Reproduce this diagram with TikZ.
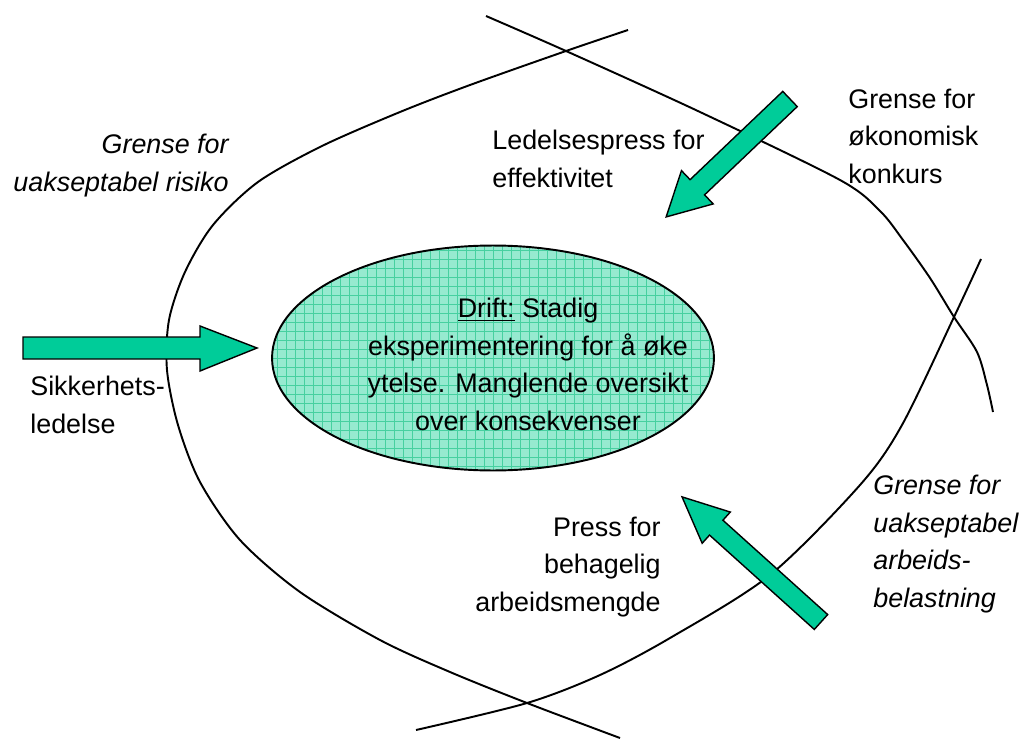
\documentclass[tikz,border=0pt]{standalone}
\usepackage{fontspec}
\setmainfont{Liberation Sans}
\usetikzlibrary{shapes.geometric}

\definecolor{arrowgreen}{RGB}{0,204,153}
\definecolor{driftfill}{RGB}{150,234,208}
\definecolor{driftgrid}{RGB}{70,208,160}

\tikzset{
  boundary/.style={line width=1.1pt},
  blockarrow/.style={fill=arrowgreen, draw=black, line width=0.8pt, line join=miter},
  lbl/.style={inner sep=0pt, font=\fontsize{15.3}{21.3}\selectfont},
  lblit/.style={lbl, font=\fontsize{15.3}{21.3}\selectfont\itshape}
}

\begin{document}
\begin{tikzpicture}[x=0.02cm, y=-0.02cm]
    \useasboundingbox (0,0) rectangle (1020,740);

    % Grense for uakseptabel risiko
    \draw[boundary] plot[smooth] coordinates {(628,30) (566,51) (470,85) (400,112) (322,146) (258,182) (213,225) (185,272) (169,320) (167,370) (178,425) (200,482) (240,540) (300,592) (380,640) (450,672) (527,703) (620,738)};

    % Grense for økonomisk konkurs
    \draw[boundary] plot[smooth] coordinates {(486,16) (566,51) (700,112) (840,180) (880,211) (903,240) (930,278) (954,317) (977,352) (987,385) (993,412)};

    % Grense for uakseptabel arbeidsbelastning
    \draw[boundary] plot[smooth] coordinates {(416,730) (527,703) (600,675) (670,638) (770,575) (860,485) (902,425) (954,317) (981,259)};

    % Drift
    \node[ellipse, draw, line width=1.1pt, fill=driftfill, minimum width=8.84cm, minimum height=4.5cm,
          path picture={\draw[driftgrid, line width=0.5pt] (path picture bounding box.south west) grid[step=0.18cm] (path picture bounding box.north east);}]
          (drift) at (493,358) {};
    \node[lbl, anchor=base, align=center] (drifttxt) at (528,430)
          {\underline{Drift:} Stadig\\eksperimentering for å øke\\ytelse. Manglende oversikt\\over konsekvenser};

    % Arrows
    \filldraw[blockarrow] (23,337) -- (200,337) -- (200,326) -- (257,348) -- (200,371) -- (200,359) -- (23,359) -- cycle;
    \begin{scope}[shift={(790,99)}, rotate=223.6]
        \filldraw[blockarrow] (0,-10.5) -- (128,-10.5) -- (128,-23) -- (171,0) -- (128,23) -- (128,10.5) -- (0,10.5) -- cycle;
    \end{scope}
    \begin{scope}[shift={(821,622)}, rotate=138]
        \filldraw[blockarrow] (0,-10) -- (141,-10) -- (141,-21) -- (187,0) -- (141,21) -- (141,10) -- (0,10) -- cycle;
    \end{scope}

    % Labels
    \node[lblit, anchor=base east, align=right] (risikotxt) at (229,191) {Grense for\\uakseptabel risiko};
    \node[lbl, anchor=base west, align=left] (ledelsetxt) at (492,187) {Ledelsespress for\\effektivitet};
    \node[lbl, anchor=base west, align=left] (konkurstxt) at (848,183) {Grense for\\økonomisk\\konkurs};
    \node[lbl, anchor=base west, align=left] (sikkertxt) at (30,433) {Sikkerhets-\\ledelse};
    \node[lbl, anchor=base east, align=right] (presstxt) at (661,611) {Press for\\behagelig\\arbeidsmengde};
    \node[lblit, anchor=base west, align=left] (belastningtxt) at (873,607) {Grense for\\uakseptabel\\arbeids-\\belastning};
\end{tikzpicture}
\end{document}
